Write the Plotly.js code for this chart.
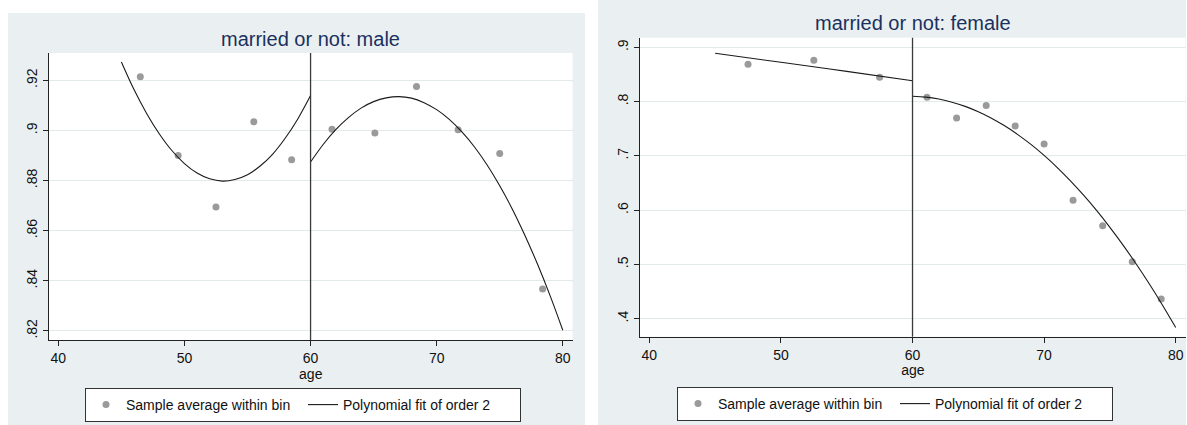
<!DOCTYPE html>
<html>
<head>
<meta charset="utf-8">
<script src="https://cdn.plot.ly/plotly-3.0.1.min.js"></script>
<style>html,body{margin:0;padding:0;background:#fff;}#chart{width:1187px;height:425px;}</style>
</head>
<body>
<div id="chart"></div>
<script>
// ---------- data ----------
const cutoff = 60;
const titles = ["married or not: male", "married or not: female"];
const legendLabels = ["Sample average within bin", "Polynomial fit of order 2"];
const xTicks = [40, 50, 60, 70, 80];

// male panel: bin averages
const maleBinAge = [46.5, 49.5, 52.5, 55.5, 58.5, 61.7, 65.1, 68.4, 71.7, 75.0, 78.4];
const maleBinVal = [0.9214, 0.8900, 0.8695, 0.9035, 0.8883, 0.9005, 0.8990, 0.9175, 0.9003, 0.8908, 0.8367];
// male panel: fitted curves (one point per year)
const maleFitLeftAge = [45, 46, 47, 48, 49, 50, 51, 52, 53, 54, 55, 56, 57, 58, 59, 60];
const maleFitLeftVal = [0.9273, 0.9163, 0.9068, 0.8987, 0.8920, 0.8868, 0.8830, 0.8807, 0.8798, 0.8804, 0.8823, 0.8858, 0.8906, 0.8970, 0.9047, 0.9139];
const maleFitRightAge = [60, 61, 62, 63, 64, 65, 66, 67, 68, 69, 70, 71, 72, 73, 74, 75, 76, 77, 78, 79, 80];
const maleFitRightVal = [0.8874, 0.8944, 0.9003, 0.9051, 0.9089, 0.9115, 0.9130, 0.9135, 0.9129, 0.9111, 0.9083, 0.9044, 0.8994, 0.8934, 0.8862, 0.8779, 0.8686, 0.8581, 0.8466, 0.8340, 0.8203];
const maleYTicks = [0.82, 0.84, 0.86, 0.88, 0.90, 0.92];
const maleYTickText = [".82", ".84", ".86", ".88", ".9", ".92"];

// female panel: bin averages
const femaleBinAge = [47.5, 52.5, 57.5, 61.1, 63.35, 65.6, 67.8, 70.0, 72.2, 74.45, 76.7, 78.9];
const femaleBinVal = [0.8687, 0.8760, 0.8447, 0.8080, 0.7698, 0.7926, 0.7550, 0.7219, 0.6184, 0.5711, 0.5048, 0.4363];
// female panel: fitted curves
const femaleFitLeftAge = [45, 50, 55, 60];
const femaleFitLeftVal = [0.8889, 0.8724, 0.8556, 0.8385];
const femaleFitRightAge = [60, 61, 62, 63, 64, 65, 66, 67, 68, 69, 70, 71, 72, 73, 74, 75, 76, 77, 78, 79, 80];
const femaleFitRightVal = [0.8098, 0.8083, 0.8046, 0.7989, 0.7912, 0.7813, 0.7694, 0.7553, 0.7392, 0.7211, 0.7008, 0.6785, 0.6540, 0.6275, 0.5990, 0.5683, 0.5356, 0.5007, 0.4638, 0.4249, 0.3838];
const femaleYTicks = [0.4, 0.5, 0.6, 0.7, 0.8, 0.9];
const femaleYTickText = [".4", ".5", ".6", ".7", ".8", ".9"];

// ---------- styling ----------
const W = 1187, H = 425;
const FONT = "Liberation Sans, Arial, Helvetica, sans-serif";
const panelBg = "#eaf0f1";
const gridCol = "#e2eaec";
const dotCol = "#9a9a9a";
const lineCol = "#1a1a1a";
const titleCol = "#1a3060";
const px = v => v / W;
const py = v => 1 - v / H;

function dots(x, y, xa, ya, leg) {
  return {type: "scatter", mode: "markers", x: x, y: y, xaxis: xa, yaxis: ya,
    name: legendLabels[0], legend: leg, showlegend: true,
    marker: {color: dotCol, size: 7}, hoverinfo: "x+y"};
}
function fit(x, y, xa, ya, leg, show) {
  return {type: "scatter", mode: "lines", x: x, y: y, xaxis: xa, yaxis: ya,
    name: legendLabels[1], legend: leg, showlegend: show,
    line: {color: lineCol, width: 1.1, shape: "spline", smoothing: 1}, hoverinfo: "x+y"};
}

const traces = [
  dots(maleBinAge, maleBinVal, "x", "y", "legend"),
  fit(maleFitLeftAge, maleFitLeftVal, "x", "y", "legend", true),
  fit(maleFitRightAge, maleFitRightVal, "x", "y", "legend", false),
  dots(femaleBinAge, femaleBinVal, "x2", "y2", "legend2"),
  fit(femaleFitLeftAge, femaleFitLeftVal, "x2", "y2", "legend2", true),
  fit(femaleFitRightAge, femaleFitRightVal, "x2", "y2", "legend2", false)
];

function xAxis(domain, range, anchor) {
  return {domain: domain, range: range, anchor: anchor, tickvals: xTicks,
    ticks: "outside", ticklen: 5, tickcolor: "#222", showline: true, linecolor: "#222", linewidth: 1,
    showgrid: false, zeroline: false, tickfont: {family: FONT, size: 14, color: "#111"},
    title: {text: "age", font: {family: FONT, size: 14, color: "#111"}, standoff: 2}, automargin: false};
}
function yAxis(domain, range, anchor, tv, tt) {
  return {domain: domain, range: range, anchor: anchor, tickvals: tv, ticktext: tt, tickangle: -90,
    ticks: "outside", ticklen: 5, tickcolor: "#222", showline: true, linecolor: "#222", linewidth: 1,
    showgrid: true, gridcolor: gridCol, gridwidth: 1.2, zeroline: false,
    tickfont: {family: FONT, size: 14, color: "#111"}, automargin: false};
}

function legendBox(x, y, entryW) {
  return {x: x, y: y, xanchor: "left", yanchor: "top", orientation: "h",
    bgcolor: "#ffffff", bordercolor: "#333", borderwidth: 1,
    font: {family: FONT, size: 14, color: "#111"}, entrywidth: entryW, itemwidth: 30,
    tracegroupgap: 0};
}

const layout = {
  width: W, height: H, autosize: false,
  margin: {l: 0, r: 0, t: 0, b: 0, pad: 0},
  paper_bgcolor: "#ffffff", plot_bgcolor: "rgba(0,0,0,0)",
  font: {family: FONT, color: "#111"},
  xaxis: xAxis([px(49), px(572.5)], [39.26, 80.77], "y"),
  yaxis: yAxis([py(340), py(53)], [0.8164, 0.9309], "x", maleYTicks, maleYTickText),
  xaxis2: xAxis([px(640), px(1185.7)], [39.29, 80.76], "y2"),
  yaxis2: yAxis([py(336.7), py(37.7)], [0.3668, 0.9177], "x2", femaleYTicks, femaleYTickText),
  legend: legendBox(px(85), py(388), 172),
  legend2: legendBox(px(677), py(387), 172),
  shapes: [
    {type: "rect", xref: "paper", yref: "paper", x0: px(8), x1: px(585), y0: 0, y1: py(13),
      fillcolor: panelBg, line: {width: 0}, layer: "below"},
    {type: "rect", xref: "paper", yref: "paper", x0: px(598), x1: px(1186), y0: 0, y1: 1,
      fillcolor: panelBg, line: {width: 0}, layer: "below"},
    {type: "rect", xref: "x domain", yref: "y domain", x0: 0, x1: 1, y0: 0, y1: 1,
      fillcolor: "#ffffff", line: {width: 0}, layer: "below"},
    {type: "rect", xref: "x2 domain", yref: "y2 domain", x0: 0, x1: 1, y0: 0, y1: 1,
      fillcolor: "#ffffff", line: {width: 0}, layer: "below"},
    {type: "line", xref: "x", yref: "y domain", x0: cutoff, x1: cutoff, y0: 0, y1: 1,
      line: {color: "#3a3a3a", width: 1.3}},
    {type: "line", xref: "x2", yref: "y2 domain", x0: cutoff, x1: cutoff, y0: 0, y1: 1,
      line: {color: "#3a3a3a", width: 1.3}}
  ],
  annotations: [
    {text: titles[0], xref: "x domain", yref: "paper", x: 0.5, y: py(39), xanchor: "center", yanchor: "middle",
      showarrow: false, font: {family: FONT, size: 20, color: titleCol}},
    {text: titles[1], xref: "x2 domain", yref: "paper", x: 0.5, y: py(23), xanchor: "center", yanchor: "middle",
      showarrow: false, font: {family: FONT, size: 20, color: titleCol}}
  ]
};

Plotly.newPlot("chart", traces, layout, {displayModeBar: false, staticPlot: false});
</script>
</body>
</html>
